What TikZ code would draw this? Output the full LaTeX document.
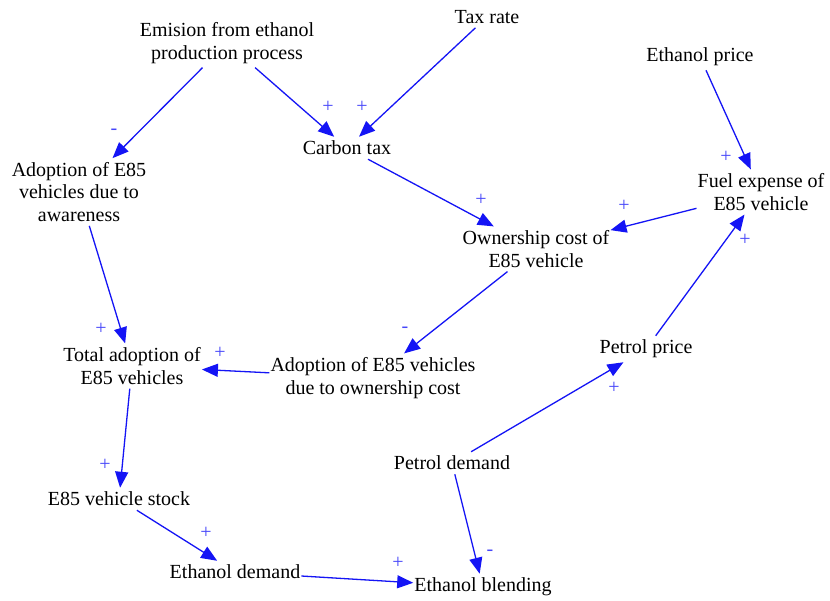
\documentclass[tikz,border=0pt]{standalone}
\usepackage{fontspec}
\setmainfont{Liberation Serif}
\usetikzlibrary{arrows.meta}
\definecolor{linkblue}{RGB}{20,20,245}
\definecolor{signblue}{RGB}{70,70,250}
\tikzset{
  var/.style={inner xsep=1pt, inner ysep=4pt, align=center, font=\fontsize{20}{22.5}\selectfont},
  link/.style={draw=linkblue, line width=1.3pt, -{Triangle[length=16pt,width=13pt]}},
  sgn/.style={text=signblue, inner sep=0pt, font=\fontsize{20}{20}\selectfont}
}
\begin{document}
\begin{tikzpicture}[x=1pt,y=-1pt]
\useasboundingbox (0,0) rectangle (830,601);
\fill[white] (0,0) rectangle (830,601);
% variables
\node[var] (emis)  at (227,43)  {Emision from ethanol\\production process};
\node[var] (tax)   at (487,17)  {Tax rate};
\node[var] (ethp)  at (700,57)  {Ethanol price};
\node[var] (ctax)  at (347,148) {Carbon tax};
\node[var] (aware) at (79,192)  {Adoption of E85\\vehicles due to\\awareness};
\node[var] (fuel)  at (761,192) {Fuel expense of\\E85 vehicle};
\node[var] (own)   at (536,249) {Ownership cost of\\E85 vehicle};
\node[var] (total) at (132,366) {Total adoption of\\E85 vehicles};
\node[var] (adown) at (373,378) {Adoption of E85 vehicles\\due to ownership cost};
\node[var] (pp)    at (646,349) {Petrol price};
\node[var] (pd)    at (452,463) {Petrol demand};
\node[var] (stock) at (119,499) {E85 vehicle stock};
\node[var] (ed)    at (235,572) {Ethanol demand};
\node[var] (eb)    at (483,587) {Ethanol blending};
% links
\draw[link] (emis) -- (aware);
\draw[link] (emis) -- (ctax);
\draw[link] (tax) -- (ctax);
\draw[link] (ctax) -- (own);
\draw[link] (fuel) -- (own);
\draw[link] (ethp) -- (fuel);
\draw[link] (pp) -- (fuel);
\draw[link] (own) -- (adown);
\draw[link] (adown) -- (total);
\draw[link] (aware) -- (total);
\draw[link] (total) -- (stock);
\draw[link] (stock) -- (ed);
\draw[link] (ed) -- (eb);
\draw[link] (pd) -- (eb);
\draw[link] (pd) -- (pp);
% polarity signs
\node[sgn] (s1)  at (114,132) {-};
\node[sgn] (s2)  at (328,107) {+};
\node[sgn] (s3)  at (362,107) {+};
\node[sgn] (s4)  at (481,200) {+};
\node[sgn] (s5)  at (624,206) {+};
\node[sgn] (s6)  at (726,157) {+};
\node[sgn] (s7)  at (745,240) {+};
\node[sgn] (s8)  at (405,330) {-};
\node[sgn] (s9)  at (220,353) {+};
\node[sgn] (s10) at (101,329) {+};
\node[sgn] (s11) at (105,465) {+};
\node[sgn] (s12) at (206,533) {+};
\node[sgn] (s13) at (398,563) {+};
\node[sgn] (s14) at (490,553) {-};
\node[sgn] (s15) at (614,388) {+};
\end{tikzpicture}
\end{document}
